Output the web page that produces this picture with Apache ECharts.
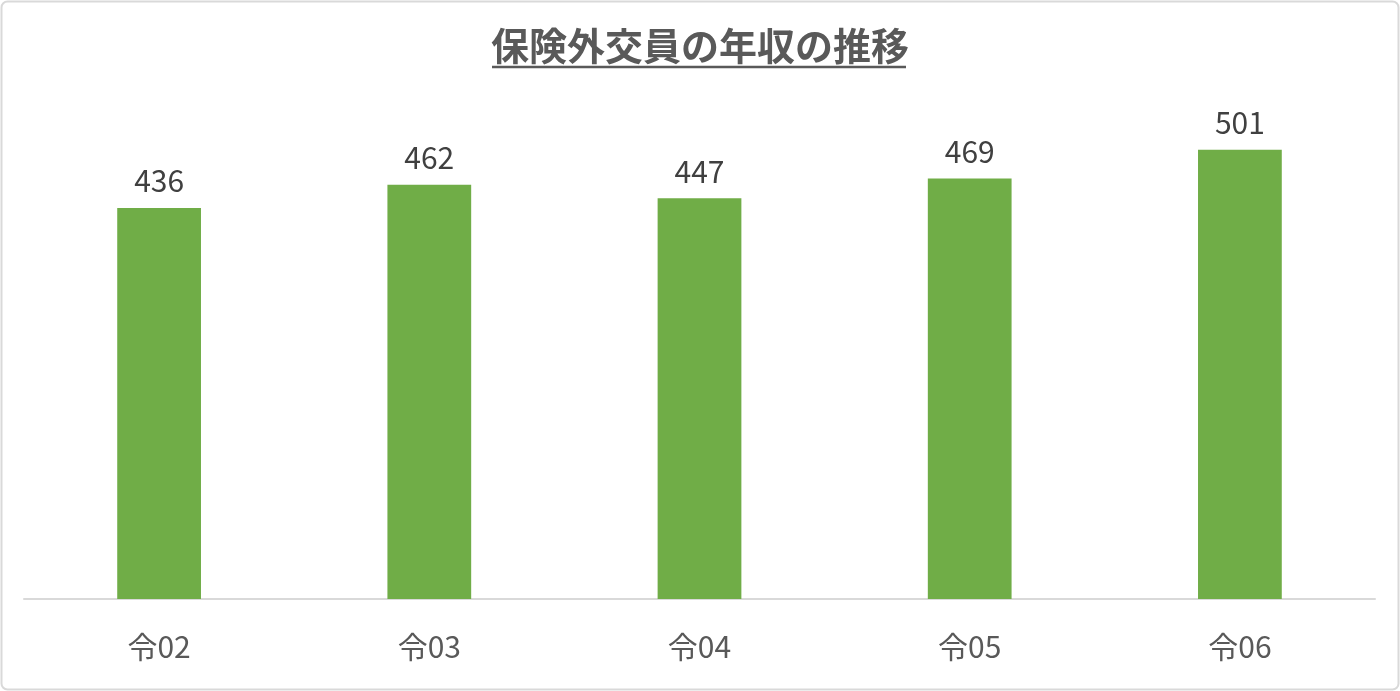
<!DOCTYPE html>
<html>
<head>
<meta charset="utf-8">
<script src="https://cdn.jsdelivr.net/npm/echarts@6/dist/echarts.min.js"></script>
<style>
    html, body { margin: 0; padding: 0; background: #fff; }
    #main { width: 1400px; height: 691px; }
</style>
</head>
<body>
<div id="main"></div>
<script>
// 保険外交員の年収の推移 (万円)
const titleText = '保険外交員の年収の推移';
const categories = ['令02', '令03', '令04', '令05', '令06'];
const incomeValues = [436, 462, 447, 469, 501];

const font = '"Noto Sans CJK JP", "Noto Sans", sans-serif';
const chart = echarts.init(document.getElementById('main'));

const option = {
    backgroundColor: '#fff',
    animation: false,
    title: {
        text: titleText,
        left: 'center',
        top: 22,
        textStyle: {
            fontFamily: font,
            fontSize: 38,
            fontWeight: 'bold',
            color: '#595959'
        }
    },
    grid: {
        left: 24,
        right: 25,
        top: 61,
        bottom: 92
    },
    xAxis: {
        type: 'category',
        data: categories,
        axisLine: { lineStyle: { color: '#d9d9d9', width: 2 } },
        axisTick: { show: false },
        axisLabel: {
            margin: 33,
            fontFamily: font,
            fontSize: 30,
            color: '#595959'
        }
    },
    yAxis: {
        type: 'value',
        min: 0,
        max: 600,
        show: false,
        splitLine: { show: false }
    },
    series: [{
        type: 'bar',
        data: incomeValues,
        barWidth: '31%',
        itemStyle: { color: '#70ad47' },
        label: {
            show: true,
            position: 'top',
            distance: 12,
            fontFamily: font,
            fontSize: 30,
            color: '#404040'
        }
    }],
    graphic: [
        {
            type: 'rect',
            shape: { x: 1.5, y: 1.5, width: 1397, height: 688, r: 6 },
            style: { fill: 'none', stroke: '#d9d9d9', lineWidth: 2 },
            silent: true
        },
        {
            type: 'line',
            shape: { x1: 492, y1: 67, x2: 906, y2: 67 },
            style: { stroke: '#595959', lineWidth: 2.5 },
            silent: true
        }
    ]
};

chart.setOption(option);
</script>
</body>
</html>
